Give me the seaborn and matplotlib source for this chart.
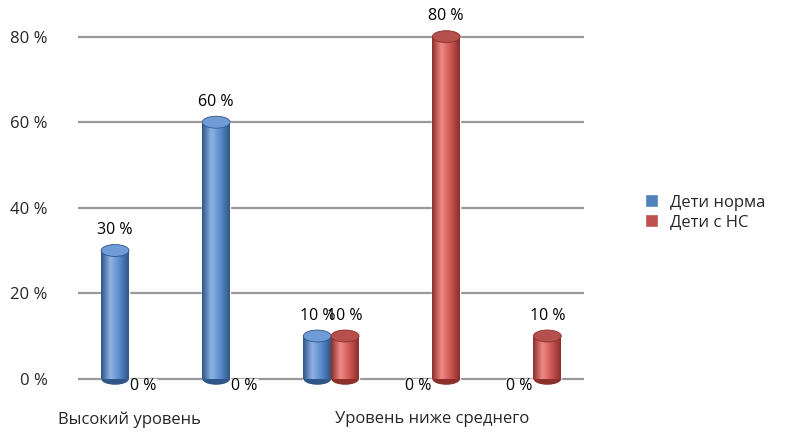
import numpy as np
import pandas as pd
import matplotlib
matplotlib.use("Agg")
import matplotlib.pyplot as plt
import seaborn as sns
from matplotlib.colors import LinearSegmentedColormap
from matplotlib.patches import Ellipse

sns.set_theme(style="white")
plt.rcParams['font.family'] = ['Open Sans', 'DejaVu Sans']

categories = ["Высокий уровень", "Уровень выше среднего", "Средний уровень",
              "Уровень ниже среднего", "Низкий уровень"]
shown_labels = ["Высокий уровень", "", "", "Уровень ниже среднего", ""]
series = ["Дети норма", "Дети с НС"]
norma = [30, 60, 10, 0, 0]
ns = [0, 0, 10, 80, 10]
yticks = [0, 20, 40, 60, 80]

colors = {"Дети норма": "#4F81BD", "Дети с НС": "#C0504D"}
shades = {
    "Дети норма": ["#2f5687", "#8fb3e3", "#5a8acb", "#2f5687"],
    "Дети с НС": ["#8a2f2c", "#f08a86", "#cc5753", "#8a2f2c"],
}
caps = {"Дети норма": "#6f9bd6", "Дети с НС": "#b5504c"}

df = pd.DataFrame({
    "Уровень": categories * 2,
    "Значение": norma + ns,
    "Группа": [series[0]] * len(categories) + [series[1]] * len(categories),
})

fig, ax = plt.subplots(figsize=(8, 4.41), dpi=100)
fig.subplots_adjust(left=0.098, right=0.73, top=0.975, bottom=0.08)

sns.barplot(data=df, x="Уровень", y="Значение", hue="Группа", order=categories,
            hue_order=series, palette=colors, width=0.55, gap=0, saturation=1,
            ax=ax, legend=True)

# cylinder-like shading
cap_h = 2.8
for name, cont in zip(series, ax.containers):
    cmap = LinearSegmentedColormap.from_list(name, shades[name])
    grad = np.linspace(0, 1, 64).reshape(1, -1)
    for p in cont.patches:
        if p.get_height() <= 0:
            continue
        x0, w, h = p.get_x(), p.get_width(), p.get_height()
        im = ax.imshow(grad, cmap=cmap, aspect="auto", zorder=p.get_zorder() + 0.1,
                       extent=[x0, x0 + w, 0, h], interpolation="bicubic")
        im.set_clip_path(p)
        ax.add_patch(Ellipse((x0 + w / 2, 0), w, cap_h, facecolor=shades[name][0],
                             edgecolor="none", zorder=p.get_zorder() + 0.05))
        ax.add_patch(Ellipse((x0 + w / 2, h), w, cap_h, facecolor=caps[name],
                             edgecolor=shades[name][0], linewidth=0.6,
                             zorder=p.get_zorder() + 0.2))
    vals = list(cont.datavalues)
    ax.bar_label(cont, labels=[f"{v:.0f} %" if v > 0 else "" for v in vals],
                 padding=9, fontsize=11.5, color="black")
    ax.bar_label(cont, labels=[f"{v:.0f} %" if v == 0 else "" for v in vals],
                 padding=-11, fontsize=11.5, color="black")

ax.set_ylim(-6.3, 86)
ax.set_xlim(-0.5, len(categories) - 0.5)

ax.set_yticks(yticks)
ax.set_yticklabels([f"{t} %" for t in yticks], fontsize=12)
ax.set_xticks(range(len(categories)))
ax.set_xticklabels(shown_labels, fontsize=12)
ax.tick_params(axis="y", pad=22, length=0)
ax.tick_params(axis="x", pad=4, length=0)
ax.set_xlabel("")
ax.set_ylabel("")
ax.grid(axis="y", color="#999999", linewidth=1.6)
ax.set_axisbelow(True)
sns.despine(ax=ax, left=True, bottom=True)

leg = ax.legend(title=None, loc="center left", bbox_to_anchor=(1.09, 0.49),
                frameon=False, fontsize=12, handlelength=0.8, handleheight=0.8,
                handletextpad=0.7, labelspacing=0.2)

fig.savefig("out.png", dpi=100)
